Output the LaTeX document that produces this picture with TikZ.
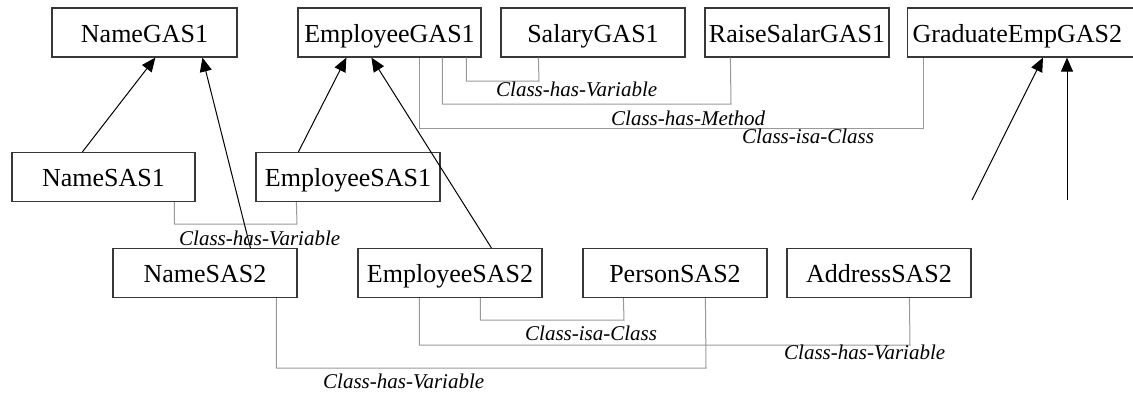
\documentclass[tikz,border=0pt]{standalone}
\usepackage{fontspec}
\setmainfont{Liberation Serif}
\usetikzlibrary{arrows.meta,calc}

\tikzset{
  cls/.style={draw=black!78, line width=1.2pt, fill=white, inner sep=0pt,
    minimum height=49pt, text height=19pt, text depth=0pt,
    font=\fontsize{26}{30}\selectfont},
  rel/.style={draw=black!40, line width=1pt},
  rellabel/.style={anchor=base west, inner sep=0pt,
    font=\fontsize{21}{25}\selectfont\itshape},
  gen/.style={draw=black, line width=1pt, -{Triangle[length=14pt,width=12pt]}}
}

\begin{document}
\begin{tikzpicture}[x=1pt, y=-1pt]
  \useasboundingbox (0,0) rectangle (1133,394);
  \clip (0,0) rectangle (1133,394);

  % top row of classes
  \node[cls, minimum width=185pt] (ng) at (144.5,32.5) {NameGAS1};
  \node[cls, minimum width=183pt] (eg) at (389.5,32.5) {EmployeeGAS1};
  \node[cls, minimum width=184pt] (sg) at (593,32.5) {SalaryGAS1};
  \node[cls, minimum width=184pt] (rg) at (797,32.5) {RaiseSalarGAS1};
  % this box runs on past the right edge of the page
  \node[cls, anchor=west, inner xsep=5pt] (ge) at (907,32.5)
    {\makebox[240pt][l]{GraduateEmpGAS2}};

  % middle row
  \node[cls, minimum width=183pt] (ns1) at (103.5,177) {NameSAS1};
  \node[cls, minimum width=184pt] (es1) at (348,177) {EmployeeSAS1};

  % bottom row
  \node[cls, minimum width=184pt] (ns2) at (205,273) {NameSAS2};
  \node[cls, minimum width=184pt] (es2) at (450,273) {EmployeeSAS2};
  \node[cls, minimum width=184pt] (ps2) at (675,273) {PersonSAS2};
  \node[cls, minimum width=184pt] (as2) at (879,273) {AddressSAS2};

  % relation connectors (grey, orthogonal)
  \draw[rel] ($(eg.south west)+(169,0)$) |- (539,81) -- ($(sg.south west)+(38,0)$);
  \draw[rel] ($(eg.south west)+(145,0)$) |- (731,104) -- ($(rg.south west)+(26,0)$);
  \draw[rel] ($(eg.south west)+(122,0)$) |- (923,128) -- ($(ge.south west)+(16,0)$);
  \draw[rel] ($(ns1.south west)+(163,0)$) |- (297,224) -- ($(es1.south west)+(41,0)$);
  \draw[rel] ($(es2.south west)+(123,0)$) |- (624,320) -- ($(ps2.south west)+(41,0)$);
  \draw[rel] ($(es2.south west)+(62,0)$) |- (910,345) -- ($(as2.south west)+(123,0)$);
  \draw[rel] ($(ns2.south west)+(164,0)$) |- (706,368) -- ($(ps2.south west)+(123,0)$);

  % relation labels
  \node[rellabel] (la) at (496,96) {Class-has-Variable};
  \node[rellabel] (lb) at (611,125) {Class-has-Method};
  \node[rellabel] (lc) at (742,143) {Class-isa-Class};
  \node[rellabel] (ld) at (179,245) {Class-has-Variable};
  \node[rellabel] (le) at (525,340) {Class-isa-Class};
  \node[rellabel] (lf) at (784,359) {Class-has-Variable};
  \node[rellabel] (lg) at (323,388) {Class-has-Variable};

  % generalisation arrows
  \draw[gen] ($(ns1.north west)+(71,0)$) -- ($(ng.south west)+(104,0)$);
  \draw[gen] ($(ns2.north west)+(138,0)$) -- ($(ng.south west)+(151,0)$);
  \draw[gen] ($(es1.north west)+(43,0)$) -- ($(eg.south west)+(49,0)$);
  \draw[gen] ($(es2.north west)+(134,0)$) -- ($(eg.south west)+(74,0)$);

  \coordinate (f1) at (972,200);
  \coordinate (f2) at (1067,200);
  \draw[gen] (f1) -- ($(ge.south west)+(136,0)$);
  \draw[gen] (f2) -- ($(ge.south west)+(160,0)$);
\end{tikzpicture}
\end{document}
